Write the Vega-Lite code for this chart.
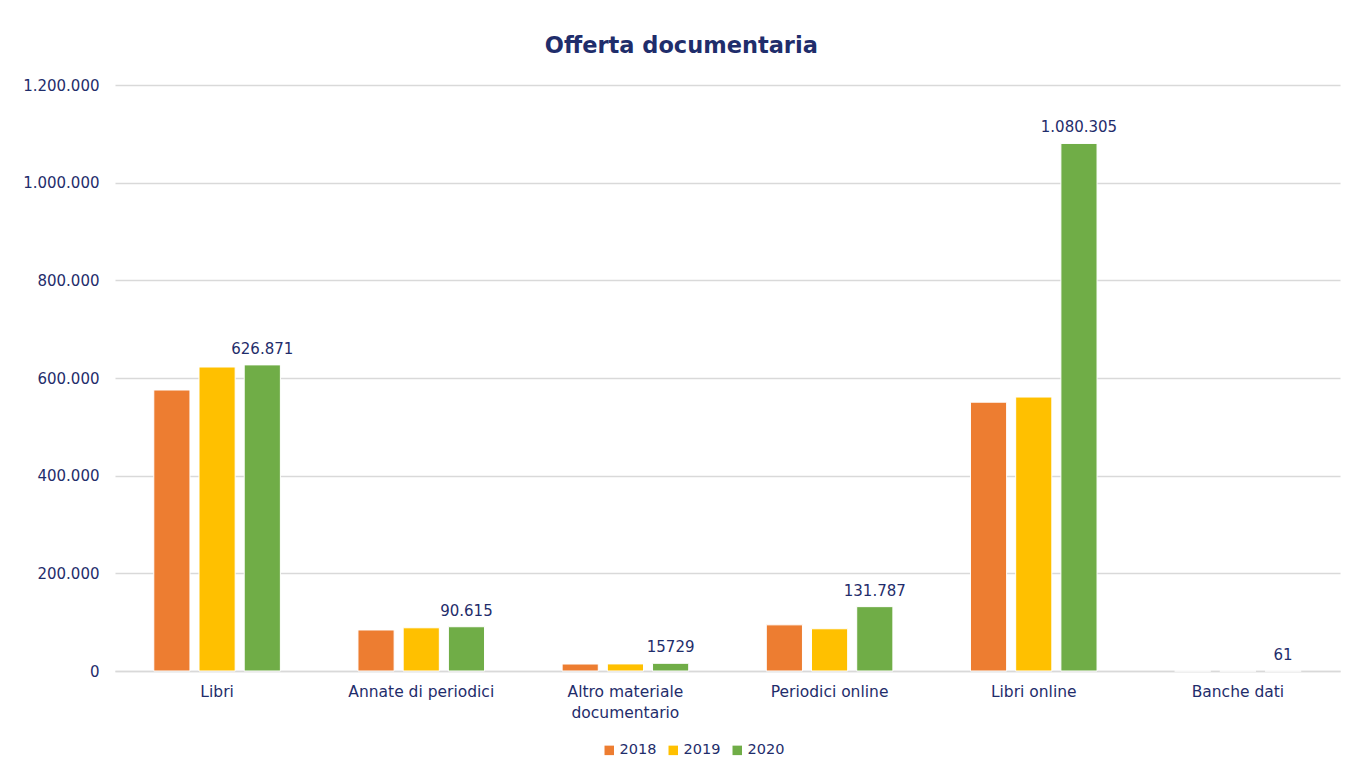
{
  "$schema": "https://vega.github.io/schema/vega-lite/v6.json",
  "width": 1225,
  "height": 586,
  "autosize": {"type": "none"},
  "padding": {"left": 115, "right": 11, "top": 85, "bottom": 98},
  "background": "white",
  "config": {
    "locale": {"number": {"decimal": ",", "thousands": ".", "grouping": [3], "currency": ["€", ""]}},
    "font": "DejaVu Sans",
    "view": {"stroke": null},
    "title": {"font": "DejaVu Sans", "fontSize": 22.5, "fontWeight": "bold", "color": "#1F2D6B", "anchor": "middle", "frame": "bounds", "offset": 21}
  },
  "title": "Offerta documentaria",
  "data": {
    "values": [
      {"categoria": "Libri", "anno": "2018", "valore": 575400, "etichetta": ""},
      {"categoria": "Libri", "anno": "2019", "valore": 622500, "etichetta": ""},
      {"categoria": "Libri", "anno": "2020", "valore": 626871, "etichetta": "626.871"},
      {"categoria": "Annate di periodici", "anno": "2018", "valore": 84000, "etichetta": ""},
      {"categoria": "Annate di periodici", "anno": "2019", "valore": 88500, "etichetta": ""},
      {"categoria": "Annate di periodici", "anno": "2020", "valore": 90615, "etichetta": "90.615"},
      {"categoria": "Altro materiale documentario", "anno": "2018", "valore": 14300, "etichetta": ""},
      {"categoria": "Altro materiale documentario", "anno": "2019", "valore": 14500, "etichetta": ""},
      {"categoria": "Altro materiale documentario", "anno": "2020", "valore": 15729, "etichetta": "15729"},
      {"categoria": "Periodici online", "anno": "2018", "valore": 94500, "etichetta": ""},
      {"categoria": "Periodici online", "anno": "2019", "valore": 86500, "etichetta": ""},
      {"categoria": "Periodici online", "anno": "2020", "valore": 131787, "etichetta": "131.787"},
      {"categoria": "Libri online", "anno": "2018", "valore": 550500, "etichetta": ""},
      {"categoria": "Libri online", "anno": "2019", "valore": 561000, "etichetta": ""},
      {"categoria": "Libri online", "anno": "2020", "valore": 1080305, "etichetta": "1.080.305"},
      {"categoria": "Banche dati", "anno": "2018", "valore": 55, "etichetta": ""},
      {"categoria": "Banche dati", "anno": "2019", "valore": 58, "etichetta": ""},
      {"categoria": "Banche dati", "anno": "2020", "valore": 61, "etichetta": "61"}
    ]
  },
  "encoding": {
    "x": {
      "field": "categoria",
      "type": "nominal",
      "sort": null,
      "scale": {"paddingInner": 0.38, "paddingOuter": 0.19},
      "axis": {
        "title": null,
        "labelAngle": 0,
        "labelFont": "DejaVu Sans",
        "labelFontSize": 15.5,
        "labelColor": "#1F2D6B",
        "labelPadding": 13,
        "ticks": false,
        "domainColor": "#D9D9D9",
        "domainWidth": 1.5,
        "labelExpr": "datum.label == 'Altro materiale documentario' ? ['Altro materiale', 'documentario'] : datum.label",
        "labelLineHeight": 21
      }
    },
    "xOffset": {"field": "anno", "type": "nominal", "scale": {"paddingInner": 0.2, "paddingOuter": 0}},
    "y": {
      "field": "valore",
      "type": "quantitative",
      "scale": {"domain": [0, 1200000]},
      "axis": {
        "title": null,
        "values": [0, 200000, 400000, 600000, 800000, 1000000, 1200000],
        "format": ",d",
        "labelFont": "DejaVu Sans",
        "labelFontSize": 15,
        "labelColor": "#1F2D6B",
        "labelPadding": 16,
        "ticks": false,
        "domain": false,
        "gridColor": "#D9D9D9",
        "gridWidth": 1.5
      }
    }
  },
  "layer": [
    {
      "mark": {"type": "bar", "stroke": "white", "strokeWidth": 1},
      "encoding": {
        "color": {
          "field": "anno",
          "type": "nominal",
          "scale": {"domain": ["2018", "2019", "2020"], "range": ["#ED7D31", "#FFC000", "#70AD47"]},
          "legend": {
            "orient": "none",
            "legendX": 487,
            "legendY": 658,
            "direction": "horizontal",
            "title": null,
            "symbolType": "square",
            "symbolSize": 90,
            "symbolStrokeWidth": 0,
            "labelFont": "DejaVu Sans",
            "labelFontSize": 14.5,
            "labelColor": "#1F2D6B",
            "columnPadding": 9,
            "labelOffset": 3
          }
        }
      }
    },
    {
      "transform": [{"filter": "datum.etichetta != ''"}],
      "mark": {"type": "text", "baseline": "bottom", "dy": -8, "font": "DejaVu Sans", "fontSize": 15, "color": "#1F2D6B"},
      "encoding": {"text": {"field": "etichetta"}}
    }
  ]
}
